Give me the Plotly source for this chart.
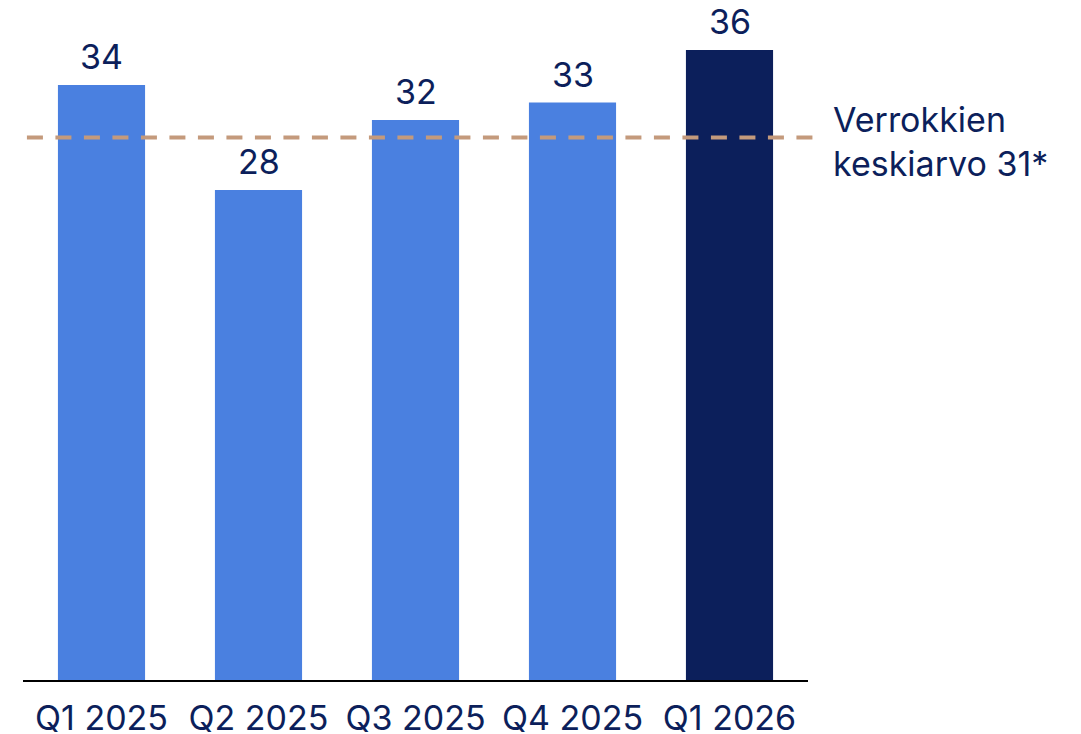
import plotly.graph_objects as go

# Tiedot
kvartaalit = ["Q1 2025", "Q2 2025", "Q3 2025", "Q4 2025", "Q1 2026"]
arvot = [34, 28, 32, 33, 36]
verrokki_ka = 31
verrokki_teksti = "Verrokkien<br>keskiarvo 31*"

VAALEA = "#4A80E0"
TUMMA = "#0C1F5B"
TEKSTI = "#0C1F5B"
VIIVA = "#C49A7C"
FONTTI = "Inter, Noto Sans, sans-serif"

varit = [VAALEA] * (len(arvot) - 1) + [TUMMA]

fig = go.Figure(go.Bar(
    x=kvartaalit,
    y=arvot,
    marker=dict(color=varit, line=dict(width=0)),
    width=0.555,
    cliponaxis=False,
))

# Arvot pylväiden yläpuolelle
for k, v in zip(kvartaalit, arvot):
    fig.add_annotation(
        x=k, y=v, xref="x", yref="y",
        text=str(v), showarrow=False,
        xanchor="center", yanchor="bottom", yshift=6,
        font=dict(size=34, color=TEKSTI, family=FONTTI),
    )

# Verrokkien keskiarvo katkoviivana
fig.add_shape(
    type="line", xref="paper", yref="y",
    x0=0.005, x1=1.006, y0=verrokki_ka, y1=verrokki_ka,
    line=dict(color=VIIVA, width=4, dash="16px,12.5px"),
    layer="above",
)
fig.add_annotation(
    xref="paper", yref="y",
    x=1.029, y=verrokki_ka, yshift=-4,
    xanchor="left", yanchor="middle", align="left",
    text=verrokki_teksti, showarrow=False,
    font=dict(size=34, color=TEKSTI, family=FONTTI),
)

fig.update_layout(
    width=1081, height=734,
    margin=dict(l=23, r=273, t=0, b=54, autoexpand=False),
    paper_bgcolor="white", plot_bgcolor="white",
    font=dict(family=FONTTI, color=TEKSTI),
    showlegend=False,
    bargap=0.445,
    xaxis=dict(
        showline=True, linecolor="black", linewidth=2,
        ticks="", tickfont=dict(size=34, color=TEKSTI),
        ticklabelstandoff=7,
        showgrid=False, automargin=False,
    ),
    yaxis=dict(
        range=[0, 38.857], visible=False, showgrid=False, zeroline=False,
        automargin=False,
    ),
)

# sivun oletusreunus pois, jotta kuva alkaa vasemmasta yläkulmasta
fig.write_html(
    "out.html",
    config={"displayModeBar": False},
    post_script="document.body.style.margin='0';",
)
